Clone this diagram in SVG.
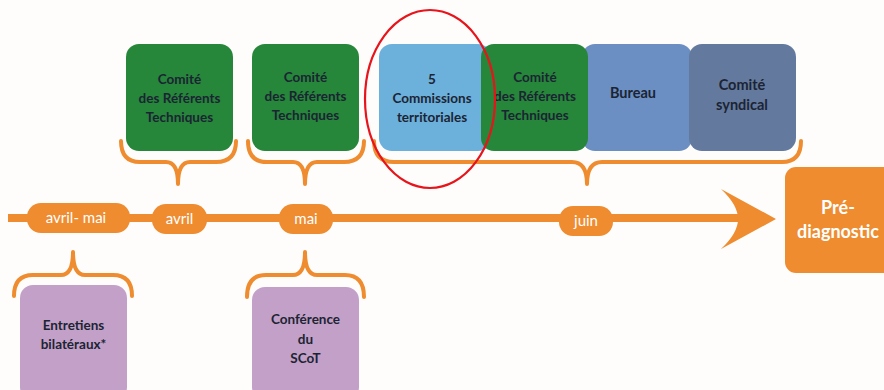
<svg xmlns="http://www.w3.org/2000/svg" width="884" height="390" viewBox="0 0 884 390">
<style>
.bx{stroke:none}
.t{font-family:Lato,"Open Sans","Liberation Sans",sans-serif;font-weight:bold;font-size:13.5px;fill:#1c2433;text-anchor:middle}
.p{font-family:Lato,"Open Sans","Liberation Sans",sans-serif;font-size:15px;fill:#ffffff;text-anchor:middle}
.br{fill:none;stroke:#EE8C2F;stroke-width:4;stroke-linecap:round;stroke-linejoin:round}
.pill{fill:#EE8C2F}
</style>
<rect x="0" y="0" width="884" height="390" fill="#FEFDFB"/>
<g id="connectors">
  <line x1="8" y1="218" x2="740" y2="218" stroke="#EE8C2F" stroke-width="8"/>
  <path d="M776,219 L721,189 Q738,205 738,219 Q738,233 721,249 Z" fill="#EE8C2F"/>
  <path class="br" d="M121,141 Q121,162 140,162 L166,162 Q178,162 178,184 Q178,162 190,162 L216,162 Q236,162 236,141"/>
  <path class="br" d="M248,141 Q248,162 267,162 L293,162 Q305,162 305,184 Q305,162 317,162 L344,162 Q364,162 364,141"/>
  <path class="br" d="M374,141 Q374,162 394,162 L572,162 Q587,162 587,184 Q587,162 602,162 L782,162 Q801,162 801,141"/>
  <path class="br" d="M14,296 Q14,275 33,275 L61,275 Q73,275 73,252 Q73,275 85,275 L113,275 Q132,275 132,296"/>
  <path class="br" d="M247,297 Q247,275 266,275 L293,275 Q305,275 305,252 Q305,275 317,275 L345,275 Q364,275 364,297"/>
</g>
<g id="pill-avril-mai"><rect class="pill" x="27" y="203" width="103" height="30" rx="14"/><text class="p" x="76" y="223">avril- mai</text></g>
<g id="pill-avril"><rect class="pill" x="152" y="204" width="55" height="30" rx="14"/><text class="p" x="179.5" y="224">avril</text></g>
<g id="pill-mai"><rect class="pill" x="279" y="204" width="54" height="30" rx="14"/><text class="p" x="306" y="224">mai</text></g>
<g id="pill-juin"><rect class="pill" x="559" y="206" width="54" height="30" rx="14"/><text class="p" x="586" y="226">juin</text></g>
<g id="crt1"><rect class="bx" x="126" y="44" width="107" height="107" rx="13" fill="#26863A"/>
<text class="t" x="179.5" y="84">Comité</text><text class="t" x="179.5" y="103">des Référents</text><text class="t" x="179.5" y="122">Techniques</text></g>
<g id="crt2"><rect class="bx" x="252" y="44" width="107" height="107" rx="13" fill="#26863A"/>
<text class="t" x="305.5" y="82">Comité</text><text class="t" x="305.5" y="101">des Référents</text><text class="t" x="305.5" y="120">Techniques</text></g>
<g id="commissions"><rect class="bx" x="379" y="44" width="112" height="107" rx="13" fill="#6CB0DC"/>
<text class="t" x="432" y="84">5</text><text class="t" x="432" y="103">Commissions</text><text class="t" x="432" y="122">territoriales</text></g>
<g id="bureau"><rect class="bx" x="582" y="44" width="110" height="107" rx="13" fill="#6B8FC3"/>
<text class="t" x="633" y="98" style="font-size:14.5px">Bureau</text></g>
<g id="crt3"><rect class="bx" x="481" y="44" width="107" height="107" rx="13" fill="#26863A"/>
<text class="t" x="535" y="82">Comité</text><text class="t" x="535" y="101">des Référents</text><text class="t" x="535" y="120">Techniques</text></g>
<g id="comite-syndical"><rect class="bx" x="689" y="44" width="107" height="107" rx="13" fill="#637A9E"/>
<text class="t" x="742" y="90" style="font-size:14.5px">Comité</text><text class="t" x="742" y="110" style="font-size:14.5px">syndical</text></g>
<g id="prediagnostic"><rect class="bx" x="785" y="167" width="110" height="106" rx="11" fill="#EE8C2F"/>
<text class="t" x="838" y="214" style="fill:#ffffff;font-size:18px">Pré-</text><text class="t" x="838" y="238" style="fill:#ffffff;font-size:18px">diagnostic</text></g>
<g id="entretiens"><rect class="bx" x="20" y="285" width="107" height="115" rx="13" fill="#C3A0C8"/>
<text class="t" x="73.5" y="330">Entretiens</text><text class="t" x="73.5" y="349">bilatéraux*</text></g>
<g id="conference"><rect class="bx" x="252" y="287" width="107" height="113" rx="13" fill="#C3A0C8"/>
<text class="t" x="305.5" y="324">Conférence</text><text class="t" x="305.5" y="344">du</text><text class="t" x="305.5" y="363">SCoT</text></g>
<g id="highlight"><ellipse cx="430" cy="99" rx="65" ry="89" fill="none" stroke="#E8141B" stroke-width="2.2"/></g>
</svg>
